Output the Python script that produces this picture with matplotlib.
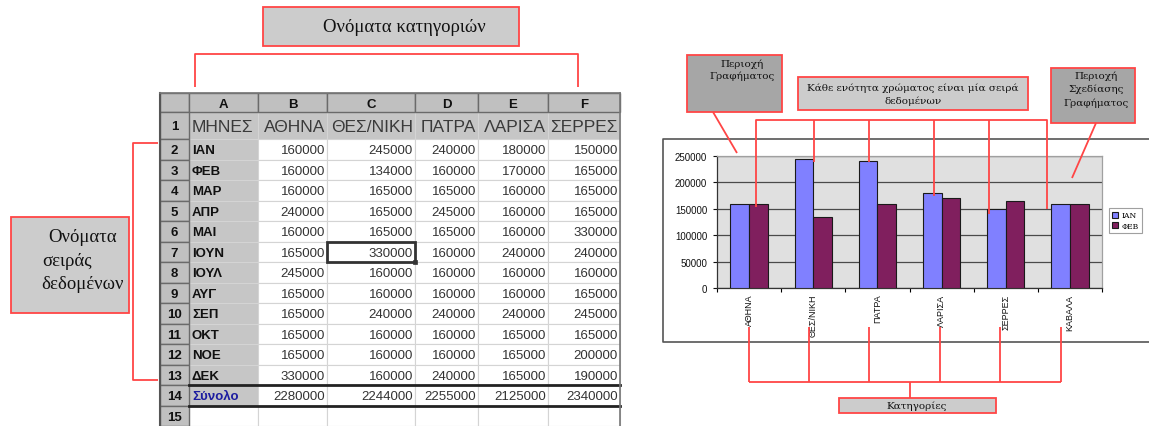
import numpy as np
import matplotlib
matplotlib.use("Agg")
import matplotlib.pyplot as plt
from matplotlib.patches import Rectangle

# spreadsheet data
months = ["ΙΑΝ", "ΦΕΒ", "ΜΑΡ", "ΑΠΡ", "ΜΑΙ", "ΙΟΥΝ", "ΙΟΥΛ", "ΑΥΓ", "ΣΕΠ", "ΟΚΤ", "ΝΟΕ", "ΔΕΚ"]
cities = ["ΑΘΗΝΑ", "ΘΕΣ/ΝΙΚΗ", "ΠΑΤΡΑ", "ΛΑΡΙΣΑ", "ΣΕΡΡΕΣ"]
col_letters = ["A", "B", "C", "D", "E", "F"]
athina = [160000, 160000, 160000, 240000, 160000, 165000, 245000, 165000, 165000, 165000, 165000, 330000]
thessaloniki = [245000, 134000, 165000, 165000, 165000, 330000, 160000, 160000, 240000, 160000, 160000, 160000]
patra = [240000, 160000, 165000, 245000, 165000, 160000, 160000, 160000, 240000, 160000, 160000, 240000]
larisa = [180000, 170000, 160000, 160000, 160000, 240000, 160000, 160000, 240000, 165000, 165000, 165000]
serres = [150000, 165000, 165000, 165000, 330000, 240000, 160000, 165000, 245000, 165000, 200000, 190000]
totals_label = "Σύνολο"

# bar chart data
chart_cities = ["ΑΘΗΝΑ", "ΘΕΣ/ΝΙΚΗ", "ΠΑΤΡΑ", "ΛΑΡΙΣΑ", "ΣΕΡΡΕΣ", "ΚΑΒΑΛΑ"]
jan_sales = [160000, 245000, 240000, 180000, 150000, 160000]
feb_sales = [160000, 134000, 160000, 170000, 165000, 160000]

RED = "#ff4545"
W, H = 1149, 427

fig = plt.figure(figsize=(W / 100, H / 100), dpi=100)
fig.patch.set_facecolor("white")

# overlay in pixel units for the sheet and the callouts
ov = fig.add_axes([0, 0, 1, 1], zorder=5)
ov.set_xlim(0, W)
ov.set_ylim(H, 0)
ov.axis("off")


def rect(x0, y0, x1, y1, fc, ec, lw=1.0, z=1):
    ov.add_patch(Rectangle((x0, y0), x1 - x0, y1 - y0, facecolor=fc,
                           edgecolor=ec, linewidth=lw, zorder=z))


def red_line(xs, ys):
    ov.plot(xs, ys, color=RED, lw=1.3, solid_capstyle="butt", zorder=6)


# ---- spreadsheet ----
col_x = [160, 189, 258, 327, 415, 478, 548, 620]
row_y = [94, 113, 140] + [140 + 20.5 * k for k in range(1, 15)]
columns = [athina, thessaloniki, patra, larisa, serres]
totals = [sum(c) for c in columns]
sans = "Liberation Sans"

# header cells (column letters + row numbers)
rect(col_x[0], row_y[0], col_x[1], row_y[1], "#c0c0c0", "#6a6a6a", 1.0, 2)
for i, letter in enumerate(col_letters):
    rect(col_x[i + 1], row_y[0], col_x[i + 2], row_y[1], "#c0c0c0", "#6a6a6a", 1.0, 2)
    ov.text((col_x[i + 1] + col_x[i + 2]) / 2, (row_y[0] + row_y[1]) / 2 + 1, letter,
            ha="center", va="center", fontsize=9.5, fontweight="bold", family=sans,
            color="#111111", zorder=3)
for r in range(1, 16):
    rect(col_x[0], row_y[r], col_x[1], row_y[r + 1], "#c0c0c0", "#6a6a6a", 1.0, 2)
    ov.text((col_x[0] + col_x[1]) / 2, (row_y[r] + row_y[r + 1]) / 2 + 1, str(r),
            ha="center", va="center", fontsize=9.5, fontweight="bold", family=sans,
            color="#111111", zorder=3)

# body cells
for r in range(1, 16):
    for c in range(6):
        grey = (r == 1) or (c == 0 and r <= 14)
        rect(col_x[c + 1], row_y[r], col_x[c + 2], row_y[r + 1],
             "#c6c6c6" if grey else "white", "#d4d4d4", 0.8, 1)

# row 1 labels
ov.text(col_x[1] + 3, (row_y[1] + row_y[2]) / 2 + 1, "ΜΗΝΕΣ", ha="left", va="center",
        fontsize=12.5, family=sans, color="#3a3a3a", zorder=3)
for c, name in enumerate(cities):
    ov.text(col_x[c + 3] - 2, (row_y[1] + row_y[2]) / 2 + 1, name, ha="right",
            va="center", fontsize=12.5, family=sans, color="#3a3a3a", zorder=3)

# month rows
for m, month in enumerate(months):
    yc = (row_y[m + 2] + row_y[m + 3]) / 2 + 1
    ov.text(col_x[1] + 3, yc, month, ha="left", va="center", fontsize=9.5,
            fontweight="bold", family=sans, color="#111111", zorder=3)
    for c, col in enumerate(columns):
        ov.text(col_x[c + 3] - 2, yc, str(col[m]), ha="right", va="center",
                fontsize=9.5, family=sans, color="#333333", zorder=3)

# totals row
yc = (row_y[14] + row_y[15]) / 2 + 1
ov.text(col_x[1] + 3, yc, totals_label, ha="left", va="center", fontsize=9.5,
        fontweight="bold", family=sans, color="#1c1ca0", zorder=3)
for c, t in enumerate(totals):
    ov.text(col_x[c + 3] - 2, yc, str(t), ha="right", va="center", fontsize=9.5,
            family=sans, color="#333333", zorder=3)
ov.plot([col_x[1], col_x[-1]], [row_y[14], row_y[14]], color="#222222", lw=2, zorder=4)
ov.plot([col_x[1], col_x[-1]], [row_y[15], row_y[15]], color="#222222", lw=2, zorder=4)

# active cell C7
rect(col_x[3], row_y[7], col_x[4], row_y[8], "none", "#333333", 2.0, 4)
rect(col_x[4] - 2, row_y[8] - 2, col_x[4] + 2, row_y[8] + 2, "#333333", "#333333", 0.5, 4)

# outer frame of the sheet
ov.plot([col_x[0], col_x[0]], [row_y[0], H], color="#555555", lw=1.5, zorder=4)
ov.plot([col_x[-1], col_x[-1]], [row_y[0], H], color="#777777", lw=1.2, zorder=4)
ov.plot([col_x[0], col_x[-1]], [row_y[0], row_y[0]], color="#777777", lw=1.2, zorder=4)

# ---- callouts on the sheet ----
rect(263, 8, 519, 47, "#cccccc", RED, 1.3, 6)
ov.text(404, 28, "Ονόματα κατηγοριών", ha="center", va="center", fontsize=13.5,
        family="Liberation Serif", color="#111111", zorder=7)
red_line([195, 195, 578, 578], [88, 55, 55, 88])

rect(11, 218, 129, 314, "#cccccc", RED, 1.3, 6)
for txt, xc, yy in [("Ονόματα", 83, 238), ("σειράς", 67, 262), ("δεδομένων", 83, 285)]:
    ov.text(xc, yy, txt, ha="center", va="center", fontsize=13.5,
            family="Liberation Serif", color="#111111", zorder=7)
red_line([158, 133, 133, 158], [144, 144, 381, 381])

# ---- bar chart ----
# chart area frame
ov.plot([W, 663, 663, W], [140, 140, 343, 343], color="#555555", lw=1.2, zorder=4)

ax = fig.add_axes([717 / W, 1 - 289 / H, 385 / W, 132 / H], zorder=2)
ax.set_facecolor("#e0e0e0")
x = np.arange(len(chart_cities))
bw = 0.29
ax.bar(x - bw / 2, jan_sales, bw, color="#8080ff", edgecolor="#1a1a1a", lw=0.8,
       label="ΙΑΝ", zorder=3)
ax.bar(x + bw / 2, feb_sales, bw, color="#801f5e", edgecolor="#1a1a1a", lw=0.8,
       label="ΦΕΒ", zorder=3)
ax.set_xlim(-0.5, len(chart_cities) - 0.5)
ax.set_ylim(0, 250000)
ax.set_yticks(np.arange(0, 250001, 50000))
ax.yaxis.grid(True, color="#4a4a4a", lw=0.9, zorder=1)
ax.set_axisbelow(True)
ax.set_xticks(np.arange(-0.5, len(chart_cities), 1))
ax.set_xticklabels([])
ax.set_xticks(x, minor=True)
ax.set_xticklabels(chart_cities, minor=True, rotation=90, va="top", ha="center",
                   fontsize=6.5, family=sans, color="#111111")
ax.tick_params(axis="x", which="minor", length=0, pad=4)
ax.tick_params(axis="x", which="major", length=3, width=0.8, direction="out")
ax.tick_params(axis="y", length=3, width=0.8, labelsize=7, pad=4, colors="#111111")
for lab in ax.get_yticklabels():
    lab.set_family(sans)
for s in ["left", "bottom"]:
    ax.spines[s].set_color("#333333")
    ax.spines[s].set_linewidth(0.9)
for s in ["top", "right"]:
    ax.spines[s].set_color("#a0a0a0")
    ax.spines[s].set_linewidth(0.9)
leg = ax.legend(loc="center left", bbox_to_anchor=(1.018, 0.51), fontsize=5.5,
                prop={"family": "DejaVu Serif", "size": 5.5}, fancybox=False,
                edgecolor="#888888", handlelength=0.8, handleheight=0.8,
                borderpad=0.4, labelspacing=0.35, handletextpad=0.5, borderaxespad=0)
leg.get_frame().set_linewidth(0.8)

# ---- callouts on the chart ----
ann = "DejaVu Serif"
rect(687, 56, 782, 113, "#a6a6a6", RED, 1.3, 6)
ov.text(742, 64, "Περιοχή", ha="center", va="center", fontsize=7.5, family=ann,
        color="#111111", zorder=7)
ov.text(742, 76, "Γραφήματος", ha="center", va="center", fontsize=7.5, family=ann,
        color="#111111", zorder=7)
red_line([713, 737], [113, 154])

rect(798, 78, 1028, 111, "#cccccc", RED, 1.3, 6)
ov.text(913, 88, "Κάθε ενότητα χρώματος είναι μία σειρά", ha="center", va="center",
        fontsize=7.5, family=ann, color="#111111", zorder=7)
ov.text(913, 101, "δεδομένων", ha="center", va="center", fontsize=7.5, family=ann,
        color="#111111", zorder=7)
red_line([756, 756, 1047, 1047], [208, 121, 121, 210])
for xv, yb in [(814, 163), (869, 163), (934, 197), (989, 215)]:
    red_line([xv, xv], [121, yb])

rect(1051, 69, 1135, 124, "#a6a6a6", RED, 1.3, 6)
for txt, yy in [("Περιοχή", 76), ("Σχεδίασης", 89), ("Γραφήματος", 103)]:
    ov.text(1096, yy, txt, ha="center", va="center", fontsize=7.5, family=ann,
            color="#111111", zorder=7)
red_line([1096, 1072], [124, 179])

for xv in [749, 809, 869, 940, 1000, 1061]:
    red_line([xv, xv], [328, 383])
red_line([749, 1061], [383, 383])
red_line([910, 910], [383, 399])
rect(839, 399, 996, 414, "#cccccc", RED, 1.3, 6)
ov.text(917, 406.5, "Κατηγορίες", ha="center", va="center", fontsize=7.5, family=ann,
        color="#111111", zorder=7)

fig.savefig("out.png", dpi=100)
